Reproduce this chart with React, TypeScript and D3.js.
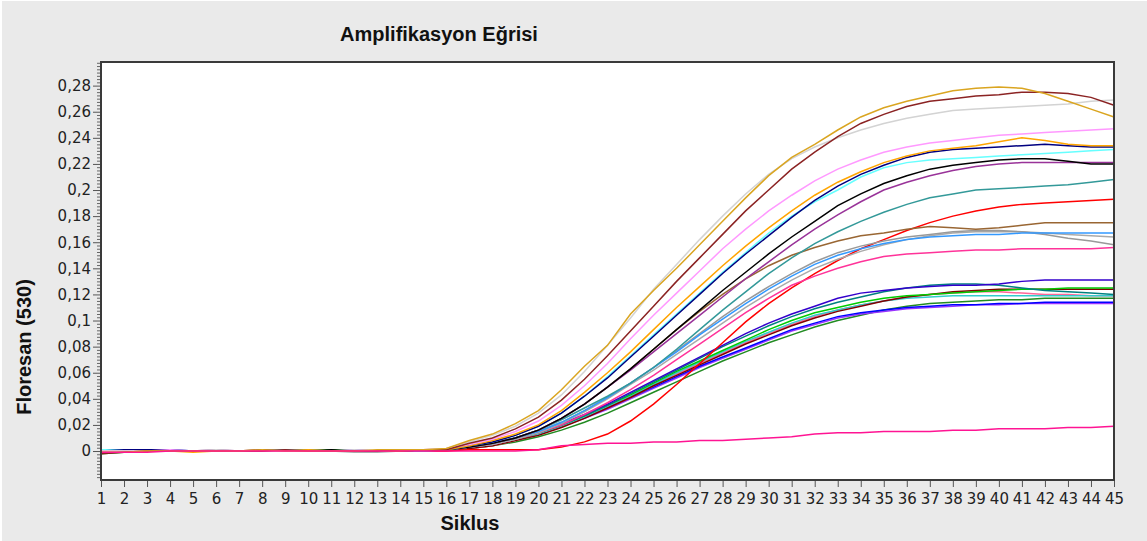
import { useEffect, useRef } from 'react';
import * as d3 from 'd3';

// x axis: PCR cycles
const cycles = d3.range(1, 46);

// y axis major tick values
const yMajorTicks = [0, 0.02, 0.04, 0.06, 0.08, 0.1, 0.12, 0.14, 0.16, 0.18, 0.2, 0.22, 0.24, 0.26, 0.28];

// fluorescence per cycle (1..45), in thousandths
const goldenrod = [-1, -1, 0, 0, 0, 0, 0, 1, 0, 0, 0, 0, 1, 1, 1, 2, 8, 13, 21, 31, 47, 65, 81, 105, 123, 140, 158, 176, 194, 211, 225, 235, 246, 256, 263, 268, 272, 276, 278, 279, 278, 274, 268, 262, 256];
const lightGray = [0, 0, 0, 0, 0, 1, 0, 0, 0, 0, 0, 1, 0, 1, 1, 2, 7, 12, 19, 29, 43, 61, 81, 102, 124, 143, 162, 180, 197, 212, 224, 233, 240, 246, 251, 255, 258, 261, 262, 263, 264, 265, 266, 268, 269];
const maroon = [-2, -1, 0, 0, 0, 0, 0, 0, 1, 0, 0, 0, 0, 1, 1, 1, 6, 10, 17, 26, 39, 55, 73, 92, 111, 130, 148, 166, 184, 200, 216, 229, 241, 251, 258, 264, 268, 270, 272, 273, 275, 275, 274, 271, 265];
const violet = [0, 0, 0, 1, 0, 0, 0, 0, 0, 0, 0, 0, 0, 1, 1, 2, 5, 9, 15, 23, 35, 50, 67, 86, 104, 121, 138, 155, 170, 184, 196, 207, 216, 223, 229, 233, 236, 238, 240, 242, 243, 244, 245, 246, 247];
const orange = [0, 0, 0, 0, -1, 0, 0, 0, 0, 1, 0, 0, 0, 0, 1, 1, 4, 8, 13, 20, 31, 45, 60, 76, 93, 110, 126, 142, 157, 171, 184, 196, 206, 214, 221, 226, 230, 232, 234, 237, 240, 238, 235, 234, 234];
const navy = [0, 1, 1, 1, 0, 0, 0, 0, 0, 0, 0, 0, 0, 0, 1, 1, 4, 7, 12, 19, 29, 42, 56, 72, 88, 104, 120, 136, 151, 165, 179, 192, 203, 212, 219, 225, 229, 231, 232, 233, 234, 235, 234, 233, 233];
const cyan = [1, 1, 0, 0, 0, 0, 0, 0, 0, 0, 0, 0, 0, 0, 1, 1, 4, 7, 12, 19, 29, 42, 57, 73, 89, 105, 121, 137, 152, 167, 180, 191, 200, 210, 217, 221, 223, 224, 225, 226, 227, 228, 229, 230, 231];
const black = [-1, 0, 0, 0, 0, 0, 0, 0, 0, 0, 1, 0, 0, 0, 1, 1, 3, 6, 10, 16, 25, 36, 49, 63, 78, 93, 108, 123, 137, 151, 164, 176, 188, 197, 205, 211, 216, 219, 221, 223, 224, 224, 222, 220, 220];
const purple = [0, 0, 0, 0, 0, 1, 0, 0, 0, 0, 0, 0, 0, 0, 1, 1, 3, 6, 10, 16, 25, 36, 49, 62, 76, 90, 104, 118, 132, 145, 158, 170, 181, 191, 200, 206, 211, 215, 218, 220, 221, 221, 221, 221, 221];
const teal = [0, 0, 0, 0, 0, 0, 0, 0, 1, 0, 0, 0, 0, 0, 1, 1, 3, 6, 10, 16, 24, 33, 42, 52, 64, 78, 93, 108, 122, 136, 148, 159, 168, 176, 183, 189, 194, 197, 200, 201, 202, 203, 204, 206, 208];
const red = [0, 0, 0, 0, 0, 0, 0, 0, 0, 0, 0, 0, 0, 0, 0, 0, 1, 1, 1, 1, 3, 7, 13, 23, 36, 51, 67, 83, 99, 113, 125, 136, 146, 155, 162, 169, 175, 180, 184, 187, 189, 190, 191, 192, 193];
const brown = [0, 0, 0, 0, 0, 0, 0, 0, 0, 0, 0, 0, 0, 0, 1, 1, 3, 6, 10, 16, 25, 36, 49, 63, 78, 93, 107, 120, 132, 142, 150, 156, 161, 165, 167, 170, 172, 171, 170, 171, 173, 175, 175, 175, 175];
const lightBlue = [0, 0, 0, 1, 0, 0, 0, 0, 0, 0, 0, 0, 0, 0, 0, 1, 3, 6, 10, 15, 22, 31, 41, 52, 64, 76, 89, 101, 113, 124, 134, 143, 150, 155, 159, 162, 164, 165, 166, 166, 167, 167, 167, 167, 167];
const gray1 = [0, 0, 1, 0, 0, 0, 0, 0, 0, 0, 0, 0, 0, 0, 1, 1, 3, 6, 10, 15, 22, 31, 41, 52, 64, 77, 90, 103, 115, 126, 136, 145, 152, 157, 161, 164, 166, 168, 169, 169, 168, 166, 163, 161, 158];
const gray2 = [0, 0, 0, 0, 0, 0, 0, 0, 0, 0, 0, -1, -1, 0, 0, 1, 3, 5, 9, 14, 21, 30, 40, 51, 62, 74, 86, 98, 110, 121, 131, 140, 147, 153, 158, 162, 165, 167, 168, 168, 168, 167, 166, 165, 164];
const hotPink = [-1, 0, 0, 0, 0, 0, 0, 0, 0, 0, 0, 0, 0, 0, 0, 1, 3, 5, 9, 14, 20, 28, 37, 47, 58, 70, 82, 94, 106, 117, 127, 134, 140, 145, 149, 151, 152, 153, 154, 154, 155, 155, 155, 155, 156];
const indigo = [0, 0, 0, 0, 0, 0, 0, 0, 0, 0, 0, 0, 0, 0, 1, 1, 3, 6, 10, 15, 21, 28, 36, 45, 54, 63, 72, 81, 90, 98, 105, 111, 117, 121, 123, 125, 126, 127, 127, 128, 130, 131, 131, 131, 131];
const teal2 = [0, 0, 1, 0, 0, 0, 0, 0, 0, 1, 0, 0, 0, 0, 0, 1, 3, 5, 9, 14, 20, 27, 35, 44, 53, 62, 71, 80, 88, 96, 103, 109, 114, 118, 122, 125, 127, 128, 128, 127, 125, 123, 122, 121, 120];
const green = [-1, -1, 0, 0, 0, 0, 0, 0, 0, 0, 1, 0, 0, 0, 1, 1, 3, 5, 9, 14, 20, 27, 35, 43, 52, 61, 69, 77, 85, 93, 100, 106, 110, 114, 117, 119, 120, 121, 122, 123, 124, 124, 125, 125, 125];
const maroon2 = [0, 0, 0, 0, 0, 0, 0, 1, 0, 0, 0, 0, 0, 0, 0, 1, 2, 4, 8, 12, 18, 25, 33, 41, 50, 58, 66, 74, 82, 89, 96, 102, 107, 111, 115, 118, 120, 122, 123, 124, 124, 124, 124, 124, 124];
const turquoise = [1, 1, 0, 0, 0, 0, 0, 0, 0, 0, 0, 0, 0, 0, 0, 1, 3, 5, 9, 13, 19, 26, 34, 42, 51, 60, 68, 76, 84, 91, 98, 104, 108, 112, 115, 117, 118, 119, 119, 119, 119, 119, 119, 119, 119];
const pink2 = [-1, 0, 0, 0, 0, 0, 0, 0, 0, 0, 0, 0, 0, 0, 0, 0, 2, 4, 8, 13, 19, 26, 33, 41, 50, 59, 67, 75, 83, 90, 97, 103, 108, 112, 115, 118, 120, 121, 122, 122, 121, 120, 120, 119, 119];
const darkGreen = [-2, -1, 0, 0, 0, 0, 0, 0, 0, 0, 0, 0, 0, 0, 0, 1, 2, 4, 7, 11, 16, 22, 29, 37, 45, 53, 61, 69, 76, 83, 89, 95, 100, 104, 108, 111, 113, 114, 115, 116, 116, 117, 117, 117, 117];
const blue = [0, 0, 0, 0, 0, 0, 0, 0, 0, 0, 0, 0, 0, 0, 0, 1, 3, 5, 9, 13, 19, 26, 33, 41, 49, 57, 65, 72, 79, 86, 93, 98, 103, 106, 108, 110, 111, 112, 112, 113, 113, 114, 114, 114, 114];
const violet2 = [-1, -1, 0, 0, 0, 0, 0, 0, 0, 0, 0, 1, 0, 0, 0, 1, 3, 5, 9, 13, 19, 25, 32, 40, 48, 56, 64, 71, 78, 85, 92, 97, 102, 105, 107, 109, 110, 111, 112, 112, 113, 113, 113, 113, 113];
const deepPink = [-1, -1, -1, 0, 0, 0, 0, 0, 0, 0, 0, 0, 0, 0, 0, 0, 0, 0, 0, 1, 4, 5, 6, 6, 7, 7, 8, 8, 9, 10, 11, 13, 14, 14, 15, 15, 15, 16, 16, 17, 17, 17, 18, 18, 19];

const series = [
  { color: '#228B22', values: darkGreen },
  { color: '#9933FF', values: violet2 },
  { color: '#0000FF', values: blue },
  { color: '#FF6699', values: pink2 },
  { color: '#33CCCC', values: turquoise },
  { color: '#800000', values: maroon2 },
  { color: '#00CC00', values: green },
  { color: '#008080', values: teal2 },
  { color: '#3300CC', values: indigo },
  { color: '#FF0000', values: red },
  { color: '#FF3399', values: hotPink },
  { color: '#AAAAAA', values: gray2 },
  { color: '#999999', values: gray1 },
  { color: '#3399FF', values: lightBlue },
  { color: '#996633', values: brown },
  { color: '#339999', values: teal },
  { color: '#993399', values: purple },
  { color: '#000000', values: black },
  { color: '#66FFFF', values: cyan },
  { color: '#000080', values: navy },
  { color: '#FFA500', values: orange },
  { color: '#FF99FF', values: violet },
  { color: '#D3D3D3', values: lightGray },
  { color: '#8B2323', values: maroon },
  { color: '#DAA520', values: goldenrod },
  { color: '#FF1493', values: deepPink },
];

export default function App() {
  const svgRef = useRef<SVGSVGElement>(null);

  useEffect(() => {
    if (!svgRef.current) return;
    document.body.style.margin = '0';

    const width = 1147;
    const height = 541;
    const margin = { top: 62, right: 33, bottom: 61, left: 101 };

    const svg = d3.select(svgRef.current);
    svg.selectAll('*').remove();

    // panel background
    svg.append('rect').attr('width', width).attr('height', height).attr('fill', '#ffffff');
    svg
      .append('rect')
      .attr('x', 2)
      .attr('y', 1)
      .attr('width', width - 2)
      .attr('height', height - 1)
      .attr('fill', '#EAEAEA');

    const x = d3.scaleLinear().domain([1, 45]).range([margin.left, width - margin.right]);
    const y = d3
      .scaleLinear()
      .domain([-0.0222, 0.2981])
      .range([height - margin.bottom, margin.top]);

    // plot area
    svg
      .append('rect')
      .attr('x', margin.left)
      .attr('y', margin.top)
      .attr('width', width - margin.left - margin.right)
      .attr('height', height - margin.top - margin.bottom)
      .attr('fill', '#ffffff');

    const fmt = (v: number) => String(+v.toFixed(2)).replace('.', ',');
    const tickFont = '"DejaVu Sans", Verdana, sans-serif';

    // y minor ticks
    const yMinor = d3.range(-0.02, 0.2976, 0.0025).filter(
      (v) => !yMajorTicks.some((t) => Math.abs(t - v) < 1e-6)
    );
    const yMinorAxis = svg
      .append('g')
      .attr('transform', `translate(${margin.left}, 0)`)
      .call(d3.axisLeft(y).tickValues(yMinor).tickSize(4).tickFormat(() => ''));
    yMinorAxis.select('.domain').remove();
    yMinorAxis.selectAll('line').attr('stroke', '#666');

    // y major ticks
    const yAxis = svg
      .append('g')
      .attr('transform', `translate(${margin.left}, 0)`)
      .call(d3.axisLeft(y).tickValues(yMajorTicks).tickSize(8).tickPadding(2).tickFormat(fmt));
    yAxis.select('.domain').remove();
    yAxis.selectAll('line').attr('stroke', '#555');
    yAxis
      .selectAll('text')
      .style('font-family', tickFont)
      .style('font-size', '15px')
      .attr('fill', '#222');

    // x axis
    const xAxis = svg
      .append('g')
      .attr('transform', `translate(0, ${height - margin.bottom})`)
      .call(d3.axisBottom(x).tickValues(cycles).tickSize(7).tickPadding(6).tickFormat(d3.format('d')));
    xAxis.select('.domain').remove();
    xAxis.selectAll('line').attr('stroke', '#555');
    xAxis
      .selectAll('text')
      .style('font-family', tickFont)
      .style('font-size', '15px')
      .attr('fill', '#222');

    // curves
    const line = d3
      .line<number>()
      .x((d, i) => x(cycles[i]))
      .y((d) => y(d / 1000));

    svg
      .append('g')
      .selectAll('path')
      .data(series)
      .join('path')
      .attr('fill', 'none')
      .attr('stroke', (d) => d.color)
      .attr('stroke-width', 1.5)
      .attr('d', (d) => line(d.values));

    // plot border
    svg
      .append('rect')
      .attr('x', margin.left)
      .attr('y', margin.top)
      .attr('width', width - margin.left - margin.right)
      .attr('height', height - margin.top - margin.bottom)
      .attr('fill', 'none')
      .attr('stroke', '#3a3a3a')
      .attr('stroke-width', 2);

    const titleFont = '"Liberation Sans", Arial, sans-serif';

    svg
      .append('text')
      .attr('x', 439)
      .attr('y', 41)
      .attr('text-anchor', 'middle')
      .style('font-family', titleFont)
      .style('font-size', '20px')
      .style('font-weight', 'bold')
      .attr('fill', '#111')
      .text('Amplifikasyon Eğrisi');

    svg
      .append('text')
      .attr('x', 470)
      .attr('y', 530)
      .attr('text-anchor', 'middle')
      .style('font-family', titleFont)
      .style('font-size', '20px')
      .style('font-weight', 'bold')
      .attr('fill', '#111')
      .text('Siklus');

    svg
      .append('text')
      .attr('transform', 'translate(31, 347) rotate(-90)')
      .attr('text-anchor', 'middle')
      .style('font-family', titleFont)
      .style('font-size', '20px')
      .style('font-weight', 'bold')
      .attr('fill', '#111')
      .text('Floresan (530)');
  }, []);

  return <svg ref={svgRef} width={1147} height={541} style={{ display: 'block' }} />;
}
